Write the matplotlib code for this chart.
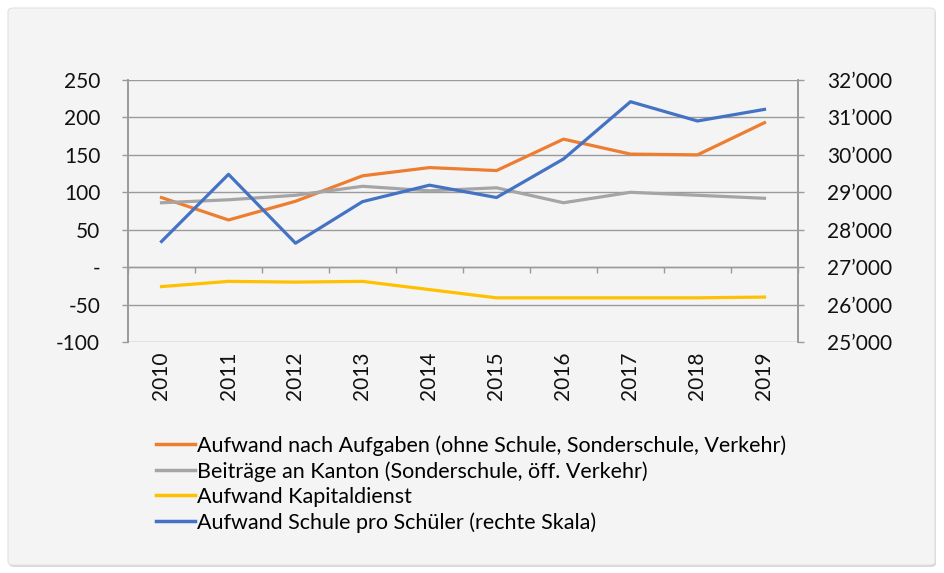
import matplotlib
matplotlib.use("Agg")
import matplotlib.pyplot as plt
from matplotlib.patches import FancyBboxPatch
from matplotlib.ticker import FuncFormatter, FixedLocator
import numpy as np

plt.rcParams['font.family'] = ['Lato', 'DejaVu Sans']

# data
years = [2010, 2011, 2012, 2013, 2014, 2015, 2016, 2017, 2018, 2019]
aufwand_aufgaben = [93, 63, 88, 122, 133, 129, 171, 151, 150, 193]
beitraege_kanton = [86, 90, 96, 108, 102, 106, 86, 100, 96, 92]
kapitaldienst = [-26, -19, -20, -19, -30, -41, -41, -41, -41, -40]
schule_pro_schueler = [27685, 29480, 27640, 28750, 29190, 28860, 29890, 31420, 30905, 31215]

labels = ["Aufwand nach Aufgaben (ohne Schule, Sonderschule, Verkehr)",
          "Beiträge an Kanton (Sonderschule, öff. Verkehr)",
          "Aufwand Kapitaldienst",
          "Aufwand Schule pro Schüler (rechte Skala)"]
colors = ["#ED7D31", "#A5A5A5", "#FFC000", "#4472C4"]

fig = plt.figure(figsize=(9.45, 5.73), dpi=100)
fig.patch.set_facecolor("white")

# grey card with a soft shadow behind the chart
shadow = FancyBboxPatch((9/945, 6/573), 927/945, 557/573, boxstyle="round,pad=0,rounding_size=0.006",
                        transform=fig.transFigure, facecolor="#d8d8d8", edgecolor="none", zorder=-3)
card = FancyBboxPatch((8/945, 8/573), 927/945, 557/573, boxstyle="round,pad=0,rounding_size=0.006",
                      transform=fig.transFigure, facecolor="#f4f4f4", edgecolor="#e2e2e2", lw=0.8, zorder=-2)
fig.patches.extend([shadow, card])

ax = fig.add_axes([128/945, 1 - 342/573, 670/945, 262/573])
ax.set_facecolor("none")
ax2 = ax.twinx()

x = np.arange(len(years))
lw = 2.3
h1, = ax.plot(x, aufwand_aufgaben, color=colors[0], lw=lw, zorder=3)
h2, = ax.plot(x, beitraege_kanton, color=colors[1], lw=lw, zorder=3)
h3, = ax.plot(x, kapitaldienst, color=colors[2], lw=lw, zorder=3)
h4, = ax2.plot(x, schule_pro_schueler, color=colors[3], lw=lw, zorder=3)

grid_c = "#9a9a9a"
fs = 15
ax.set_xlim(-0.5, len(years) - 0.5)
ax.set_ylim(-100, 250)
ax.set_yticks(np.arange(-100, 251, 50))
ax.yaxis.set_major_formatter(FuncFormatter(lambda v, p: "-" if v == 0 else f"{v:.0f}"))
ax.grid(axis="y", color=grid_c, lw=1.0)
ax.set_axisbelow(True)

ax2.set_ylim(25000, 32000)
ax2.set_yticks(np.arange(25000, 32001, 1000))
ax2.yaxis.set_major_formatter(FuncFormatter(lambda v, p: f"{int(v)//1000}\u2019{int(v)%1000:03d}"))

for a in (ax, ax2):
    a.spines["top"].set_visible(False)
    a.spines["left"].set_color(grid_c)
    a.spines["right"].set_color(grid_c)
    a.spines["left"].set_linewidth(1.2)
    a.spines["right"].set_linewidth(1.2)
ax.tick_params(axis="y", length=4.5, width=1.0, color=grid_c, labelsize=fs, labelcolor="#111111", pad=15.5)
ax2.tick_params(axis="y", length=4.5, width=1.0, color=grid_c, labelsize=fs, labelcolor="#111111", pad=16.5)
ax2.spines["bottom"].set_visible(False)

# category axis sits on zero, labels at the bottom
ax.spines["bottom"].set_position(("data", 0))
ax.spines["bottom"].set_color(grid_c)
ax.spines["bottom"].set_linewidth(1.0)
ax.xaxis.set_major_locator(FixedLocator(np.arange(-0.5, len(years), 1.0)))
ax.tick_params(axis="x", length=4.5, width=1.0, color=grid_c, labelbottom=False)
for xi, yr in zip(x, years):
    ax.text(xi, -0.035, str(yr), transform=ax.get_xaxis_transform(), rotation=90,
            ha="center", va="top", fontsize=fs, color="#111111")

leg = fig.legend([h1, h2, h3, h4], labels, loc="upper left", bbox_to_anchor=(156/945, 1 - 435/573),
                 frameon=False, fontsize=15.5, handlelength=1.8, handletextpad=0.1,
                 labelspacing=0.25, borderaxespad=0, borderpad=0)
for line in leg.get_lines():
    line.set_linewidth(2.5)

fig.savefig("out.png", dpi=100)
